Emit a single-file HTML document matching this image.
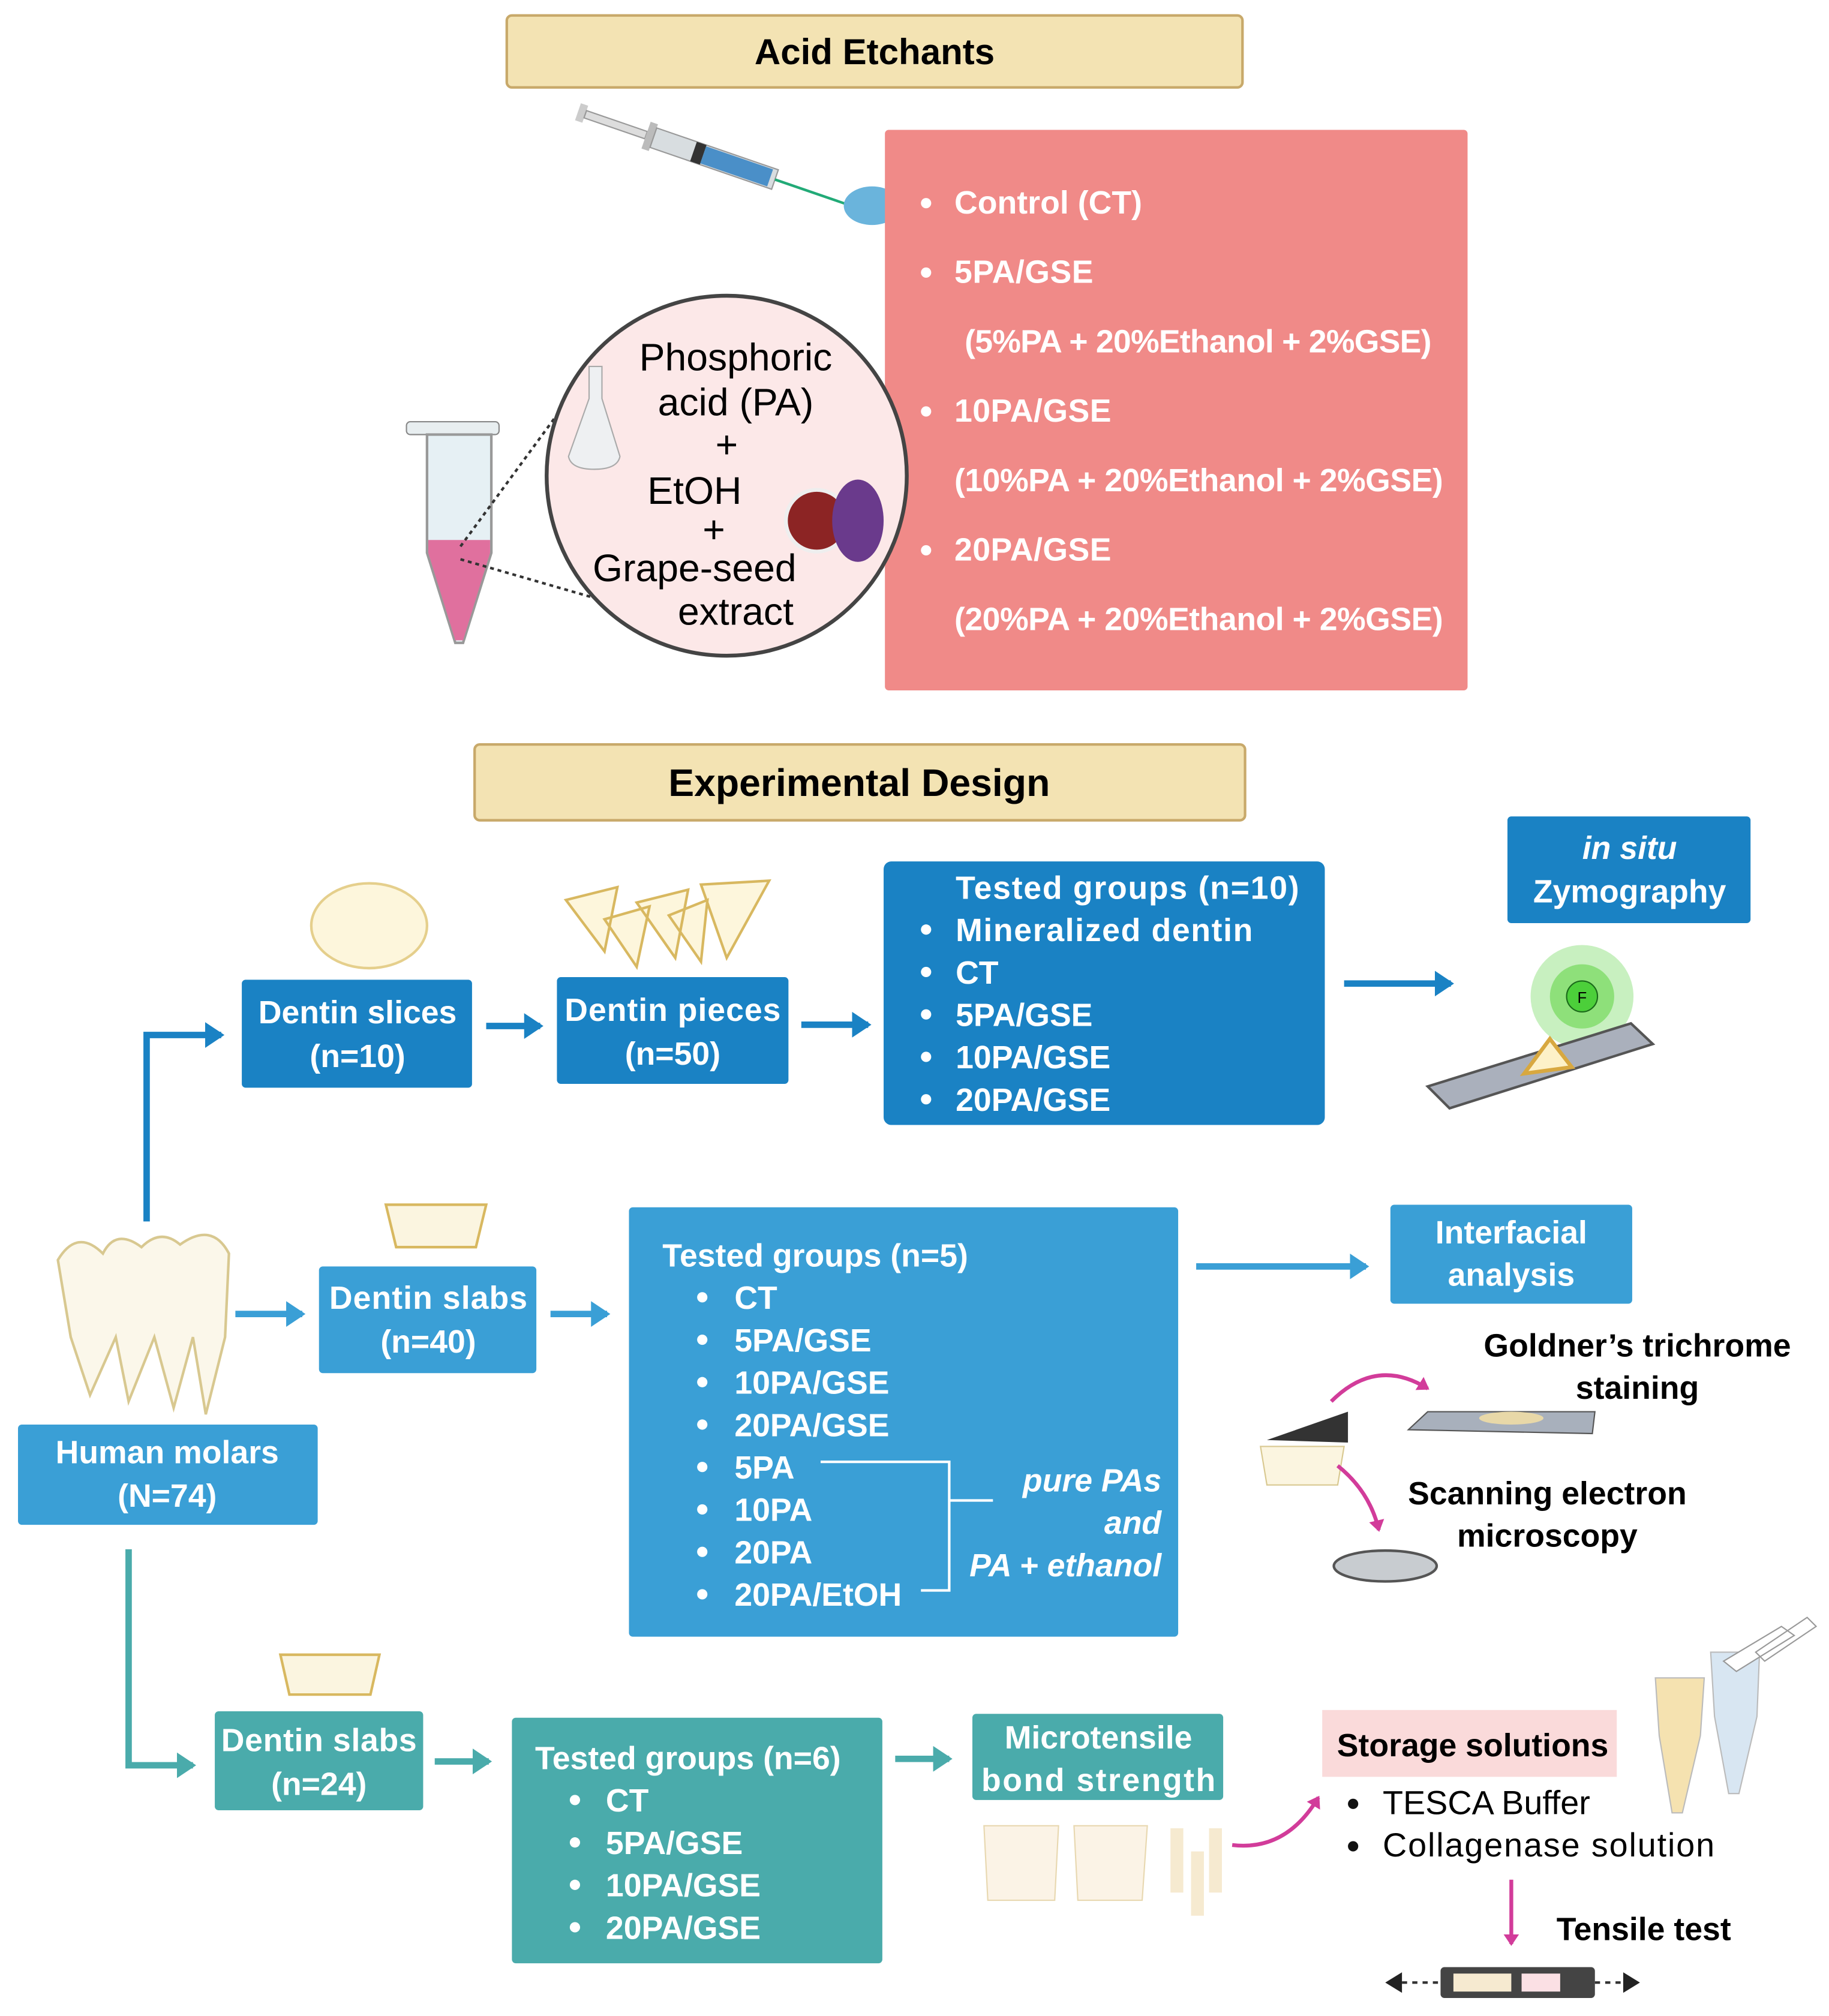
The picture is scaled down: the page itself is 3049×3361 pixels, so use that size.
<!DOCTYPE html>
<html><head><meta charset="utf-8"><style>
html,body{margin:0;padding:0;background:#fff;width:3049px;height:3361px;overflow:hidden}
svg{display:block}
text{font-family:"Liberation Sans",Arial,sans-serif}
.b{font-weight:bold}
.w{fill:#fff;font-weight:bold;font-size:25px}
</style></head><body>
<svg width="3049" height="3361" viewBox="0 0 1422 1568" preserveAspectRatio="none" xmlns="http://www.w3.org/2000/svg">
<defs>
<marker id="ab" markerWidth="4" markerHeight="4" refX="2.5" refY="2" orient="auto"><path d="M0,0 L3,2 L0,4 Z" fill="#1a82c4"/></marker>
<marker id="am" markerWidth="4" markerHeight="4" refX="2.5" refY="2" orient="auto"><path d="M0,0 L3,2 L0,4 Z" fill="#3a9fd6"/></marker>
<marker id="at" markerWidth="4" markerHeight="4" refX="2.5" refY="2" orient="auto"><path d="M0,0 L3,2 L0,4 Z" fill="#4aabab"/></marker>
<marker id="ap" markerWidth="4" markerHeight="4" refX="2.5" refY="2" orient="auto"><path d="M0,0 L3,2 L0,4 Z" fill="#d23c9a"/></marker>
</defs>
<!-- Acid etchants -->
<rect x="394" y="12" width="572" height="56" rx="4" fill="#f3e3b3" stroke="#c8a96a" stroke-width="2"/>
<text x="680" y="50" text-anchor="middle" class="b" font-size="28">Acid Etchants</text>
<!-- syringe -->
<g transform="rotate(19 450 85)">
<rect x="450" y="80" width="6" height="14" fill="#ccc"/>
<rect x="456" y="84" width="50" height="6" fill="#ddd" stroke="#999"/>
<rect x="506" y="76" width="6" height="22" fill="#bbb"/>
<rect x="512" y="79" width="100" height="16" fill="#d8dde0" stroke="#999"/>
<rect x="545" y="79" width="8" height="16" fill="#333"/>
<rect x="553" y="80" width="55" height="14" fill="#4a8fc8"/>
<line x1="612" y1="87" x2="690" y2="87" stroke="#2a7" stroke-width="2"/>
</g>
<ellipse cx="678" cy="160" rx="22" ry="15" fill="#6ab4dc"/>
<!-- pink box -->
<rect x="688" y="101" width="453" height="436" rx="3" fill="#f08a88"/>
<g class="w" fill="#fff">
<circle cx="720" cy="158" r="4" fill="#fff"/><text x="742" y="166" class="w" textLength="146">Control (CT)</text>
<circle cx="720" cy="212" r="4" fill="#fff"/><text x="742" y="220" class="w" textLength="108">5PA/GSE</text>
<text x="750" y="274" class="w" textLength="363">(5%PA + 20%Ethanol + 2%GSE)</text>
<circle cx="720" cy="320" r="4" fill="#fff"/><text x="742" y="328" class="w" textLength="122">10PA/GSE</text>
<text x="742" y="382" class="w" textLength="380">(10%PA + 20%Ethanol + 2%GSE)</text>
<circle cx="720" cy="428" r="4" fill="#fff"/><text x="742" y="436" class="w" textLength="122">20PA/GSE</text>
<text x="742" y="490" class="w" textLength="380">(20%PA + 20%Ethanol + 2%GSE)</text>
</g>
<!-- tube -->
<rect x="316" y="328" width="72" height="10" rx="3" fill="#e8eef0" stroke="#888"/>
<path d="M332,338 L382,338 L382,430 L360,500 L354,500 L332,430 Z" fill="#e6f0f4" stroke="#999" stroke-width="2"/>
<path d="M333,420 L381,420 L381,430 L360,498 L354,498 L333,430 Z" fill="#e0709e"/>
<line x1="358" y1="425" x2="435" y2="320" stroke="#333" stroke-width="2" stroke-dasharray="3,3"/>
<line x1="358" y1="435" x2="462" y2="465" stroke="#333" stroke-width="2" stroke-dasharray="3,3"/>
<!-- circle -->
<circle cx="565" cy="370" r="140" fill="#fce8e8" stroke="#444" stroke-width="3"/>
<path d="M458,285 L468,285 L468,310 L482,355 Q480,365 462,365 Q444,365 442,355 L458,310 Z" fill="#eef0f2" stroke="#aaa"/>
<circle cx="635" cy="405" r="24" fill="#8c2424" stroke="#eee" stroke-width="3"/>
<ellipse cx="667" cy="405" rx="20" ry="32" fill="#6a3a8c"/>
<g font-size="30" text-anchor="middle">
<text x="572" y="288">Phosphoric</text>
<text x="572" y="323">acid (PA)</text>
<text x="565" y="356">+</text>
<text x="540" y="392">EtOH</text>
<text x="555" y="422">+</text>
<text x="540" y="452">Grape-seed</text>
<text x="572" y="486">extract</text>
</g>
<!-- Experimental design -->
<rect x="369" y="579" width="599" height="59" rx="4" fill="#f3e3b3" stroke="#c8a96a" stroke-width="2"/>
<text x="668" y="619" text-anchor="middle" class="b" font-size="30">Experimental Design</text>
<!-- top row dark blue -->
<ellipse cx="287" cy="720" rx="45" ry="33" fill="#fdf6dc" stroke="#e5cf8c" stroke-width="2"/>
<path d="M440,700 L480,690 L470,740 Z M470,715 L505,705 L495,752 Z M495,702 L535,692 L525,745 Z M520,712 L550,700 L545,748 Z M545,688 L598,685 L565,745 Z" fill="#fdf6dc" stroke="#d8b860" stroke-width="2"/>
<rect x="188" y="762" width="179" height="84" rx="3" fill="#1a82c4"/>
<text x="278" y="796" text-anchor="middle" class="w">Dentin slices</text>
<text x="278" y="830" text-anchor="middle" class="w">(n=10)</text>
<rect x="433" y="760" width="180" height="83" rx="3" fill="#1a82c4"/>
<text x="523" y="794" text-anchor="middle" class="w" textLength="168">Dentin pieces</text>
<text x="523" y="828" text-anchor="middle" class="w">(n=50)</text>
<rect x="687" y="670" width="343" height="205" rx="6" fill="#1a82c4"/>
<text x="743" y="699" class="w" textLength="267">Tested groups (n=10)</text>
<g fill="#fff"><circle cx="720" cy="723" r="4"/><circle cx="720" cy="756" r="4"/><circle cx="720" cy="789" r="4"/><circle cx="720" cy="822" r="4"/><circle cx="720" cy="855" r="4"/></g>
<text x="743" y="732" class="w" textLength="231">Mineralized dentin</text>
<text x="743" y="765" class="w">CT</text>
<text x="743" y="798" class="w">5PA/GSE</text>
<text x="743" y="831" class="w">10PA/GSE</text>
<text x="743" y="864" class="w">20PA/GSE</text>
<rect x="1172" y="635" width="189" height="83" rx="3" fill="#1a82c4"/>
<text x="1267" y="668" text-anchor="middle" class="w" font-style="italic">in situ</text>
<text x="1267" y="702" text-anchor="middle" class="w">Zymography</text>
<circle cx="1230" cy="775" r="40" fill="#c8f0c0"/><circle cx="1230" cy="775" r="25" fill="#8ee07a"/>
<circle cx="1230" cy="775" r="12" fill="#4ccf3a" stroke="#1a6a1a"/><text x="1230" y="780" text-anchor="middle" font-size="12">F</text>
<path d="M1110,845 L1268,796 L1285,812 L1127,862 Z" fill="#aab0bc" stroke="#555" stroke-width="2"/>
<path d="M1185,835 L1205,808 L1222,830 Z" fill="#fdf1c8" stroke="#d8a840" stroke-width="3"/>
<!-- arrows top -->
<polyline points="114,950 114,805 172,805" fill="none" stroke="#1a82c4" stroke-width="5" marker-end="url(#ab)"/>
<line x1="378" y1="798" x2="420" y2="798" stroke="#1a82c4" stroke-width="5" marker-end="url(#ab)"/>
<line x1="623" y1="797" x2="675" y2="797" stroke="#1a82c4" stroke-width="5" marker-end="url(#ab)"/>
<line x1="1045" y1="765" x2="1128" y2="765" stroke="#1a82c4" stroke-width="5" marker-end="url(#ab)"/>
<!-- molars -->
<g fill="#fbf7ea" stroke="#d8c890" stroke-width="2">
<path d="M45,980 Q60,955 80,975 Q90,955 110,970 Q125,955 140,968 Q165,950 178,975 L175,1040 L160,1100 L150,1040 L135,1095 L120,1040 L100,1090 L90,1040 L70,1085 L55,1040 Z"/>
</g>
<!-- mid row -->
<path d="M300,937 L378,937 L370,970 L308,970 Z" fill="#fbf5e0" stroke="#d8b860" stroke-width="2"/>
<rect x="248" y="985" width="169" height="83" rx="3" fill="#3a9fd6"/>
<text x="333" y="1018" text-anchor="middle" class="w" textLength="154">Dentin slabs</text>
<text x="333" y="1052" text-anchor="middle" class="w">(n=40)</text>
<rect x="14" y="1108" width="233" height="78" rx="3" fill="#3a9fd6"/>
<text x="130" y="1138" text-anchor="middle" class="w">Human molars</text>
<text x="130" y="1172" text-anchor="middle" class="w">(N=74)</text>
<rect x="489" y="939" width="427" height="334" rx="3" fill="#3a9fd6"/>
<text x="515" y="985" class="w">Tested groups (n=5)</text>
<g fill="#fff"><circle cx="546" cy="1009" r="4"/><circle cx="546" cy="1042" r="4"/><circle cx="546" cy="1075" r="4"/><circle cx="546" cy="1108" r="4"/><circle cx="546" cy="1141" r="4"/><circle cx="546" cy="1174" r="4"/><circle cx="546" cy="1207" r="4"/><circle cx="546" cy="1240" r="4"/></g>
<text x="571" y="1018" class="w">CT</text>
<text x="571" y="1051" class="w">5PA/GSE</text>
<text x="571" y="1084" class="w">10PA/GSE</text>
<text x="571" y="1117" class="w">20PA/GSE</text>
<text x="571" y="1150" class="w">5PA</text>
<text x="571" y="1183" class="w">10PA</text>
<text x="571" y="1216" class="w">20PA</text>
<text x="571" y="1249" class="w">20PA/EtOH</text>
<polyline points="638,1137 738,1137 738,1237 716,1237" fill="none" stroke="#fff" stroke-width="2"/>
<line x1="738" y1="1167" x2="772" y2="1167" stroke="#fff" stroke-width="2"/>
<g class="w" font-style="italic" text-anchor="end">
<text x="903" y="1160" class="w">pure PAs</text>
<text x="903" y="1193" class="w">and</text>
<text x="903" y="1226" class="w">PA + ethanol</text>
</g>
<rect x="1081" y="937" width="188" height="77" rx="3" fill="#3a9fd6"/>
<text x="1175" y="967" text-anchor="middle" class="w">Interfacial</text>
<text x="1175" y="1000" text-anchor="middle" class="w">analysis</text>
<line x1="183" y1="1022" x2="235" y2="1022" stroke="#3a9fd6" stroke-width="5" marker-end="url(#am)"/>
<line x1="428" y1="1022" x2="472" y2="1022" stroke="#3a9fd6" stroke-width="5" marker-end="url(#am)"/>
<line x1="930" y1="985" x2="1062" y2="985" stroke="#3a9fd6" stroke-width="5" marker-end="url(#am)"/>
<text x="1273" y="1055" text-anchor="middle" class="b" font-size="25">Goldner’s trichrome</text>
<text x="1273" y="1088" text-anchor="middle" class="b" font-size="25">staining</text>
<text x="1203" y="1170" text-anchor="middle" class="b" font-size="25">Scanning electron</text>
<text x="1203" y="1203" text-anchor="middle" class="b" font-size="25">microscopy</text>
<path d="M980,1125 L1045,1125 L1040,1155 L985,1155 Z" fill="#fbf5e0" stroke="#d8c890"/>
<path d="M985,1120 L1048,1098 L1048,1122 Z" fill="#333"/>
<path d="M1095,1112 L1110,1098 L1240,1098 L1238,1115 Z" fill="#a8b0bc" stroke="#555"/>
<ellipse cx="1175" cy="1103" rx="25" ry="5" fill="#e8d8a8"/>
<ellipse cx="1077" cy="1218" rx="40" ry="12" fill="#c8ccd0" stroke="#555" stroke-width="2"/>
<path d="M1035,1090 Q1070,1055 1110,1080" fill="none" stroke="#d23c9a" stroke-width="3" marker-end="url(#ap)"/>
<path d="M1040,1140 Q1065,1160 1072,1190" fill="none" stroke="#d23c9a" stroke-width="3" marker-end="url(#ap)"/>
<!-- bottom teal -->
<polyline points="100,1205 100,1373 150,1373" fill="none" stroke="#4aabab" stroke-width="5" marker-end="url(#at)"/>
<path d="M218,1287 L295,1287 L288,1318 L225,1318 Z" fill="#fbf5e0" stroke="#d8b860" stroke-width="2"/>
<rect x="167" y="1331" width="162" height="77" rx="3" fill="#4aabab"/>
<text x="248" y="1362" text-anchor="middle" class="w" textLength="152">Dentin slabs</text>
<text x="248" y="1396" text-anchor="middle" class="w">(n=24)</text>
<rect x="398" y="1336" width="288" height="191" rx="3" fill="#4aabab"/>
<text x="416" y="1376" class="w">Tested groups (n=6)</text>
<g fill="#fff"><circle cx="447" cy="1400" r="4"/><circle cx="447" cy="1433" r="4"/><circle cx="447" cy="1466" r="4"/><circle cx="447" cy="1499" r="4"/></g>
<text x="471" y="1409" class="w">CT</text>
<text x="471" y="1442" class="w">5PA/GSE</text>
<text x="471" y="1475" class="w">10PA/GSE</text>
<text x="471" y="1508" class="w">20PA/GSE</text>
<rect x="756" y="1333" width="195" height="67" rx="3" fill="#4aabab"/>
<text x="854" y="1360" text-anchor="middle" class="w">Microtensile</text>
<text x="854" y="1393" text-anchor="middle" class="w" textLength="182">bond strength</text>
<line x1="338" y1="1370" x2="380" y2="1370" stroke="#4aabab" stroke-width="5" marker-end="url(#at)"/>
<line x1="696" y1="1368" x2="738" y2="1368" stroke="#4aabab" stroke-width="5" marker-end="url(#at)"/>
<path d="M765,1420 L823,1420 L820,1478 L768,1478 Z" fill="#fbf3e6" stroke="#e8d8b0"/>
<path d="M835,1420 L892,1420 L888,1478 L838,1478 Z" fill="#fbf3e6" stroke="#e8d8b0"/>
<rect x="910" y="1422" width="10" height="50" fill="#f6ead0"/><rect x="926" y="1440" width="10" height="50" fill="#f6ead0"/><rect x="940" y="1422" width="10" height="50" fill="#f6ead0"/>
<path d="M958,1435 Q1000,1440 1025,1398" fill="none" stroke="#d23c9a" stroke-width="3" marker-end="url(#ap)"/>
<rect x="1028" y="1330" width="229" height="52" fill="#fadada"/>
<text x="1145" y="1366" text-anchor="middle" class="b" font-size="25">Storage solutions</text>
<circle cx="1052" cy="1403" r="4" fill="#111"/><circle cx="1052" cy="1436" r="4" fill="#111"/>
<text x="1075" y="1411" font-size="26">TESCA Buffer</text>
<text x="1075" y="1444" font-size="26" textLength="258">Collagenase solution</text>
<path d="M1287,1305 L1325,1305 L1322,1350 L1308,1410 L1300,1410 L1290,1350 Z" fill="#f5e2b0" stroke="#bbb"/>
<path d="M1330,1285 L1368,1285 L1366,1335 L1352,1395 L1344,1395 L1333,1335 Z" fill="#d8e6f2" stroke="#bbb"/>
<path d="M1340,1292 L1385,1265 L1395,1272 L1350,1300 Z M1365,1285 L1405,1258 L1412,1265 L1372,1292 Z" fill="#fff" stroke="#999"/>
<line x1="1175" y1="1462" x2="1175" y2="1512" stroke="#d23c9a" stroke-width="3" marker-end="url(#ap)"/>
<text x="1278" y="1509" text-anchor="middle" class="b" font-size="25">Tensile test</text>
<rect x="1120" y="1530" width="120" height="24" rx="3" fill="#444"/>
<rect x="1130" y="1535" width="45" height="14" fill="#f6ead0"/><rect x="1183" y="1535" width="30" height="14" fill="#fbe0e4"/>
<line x1="1090" y1="1542" x2="1120" y2="1542" stroke="#333" stroke-width="2" stroke-dasharray="4,4"/>
<line x1="1240" y1="1542" x2="1262" y2="1542" stroke="#333" stroke-width="2" stroke-dasharray="4,4"/>
<path d="M1077,1542 L1090,1534 L1090,1550 Z M1275,1542 L1262,1534 L1262,1550 Z" fill="#222"/>
</svg>
</body></html>
